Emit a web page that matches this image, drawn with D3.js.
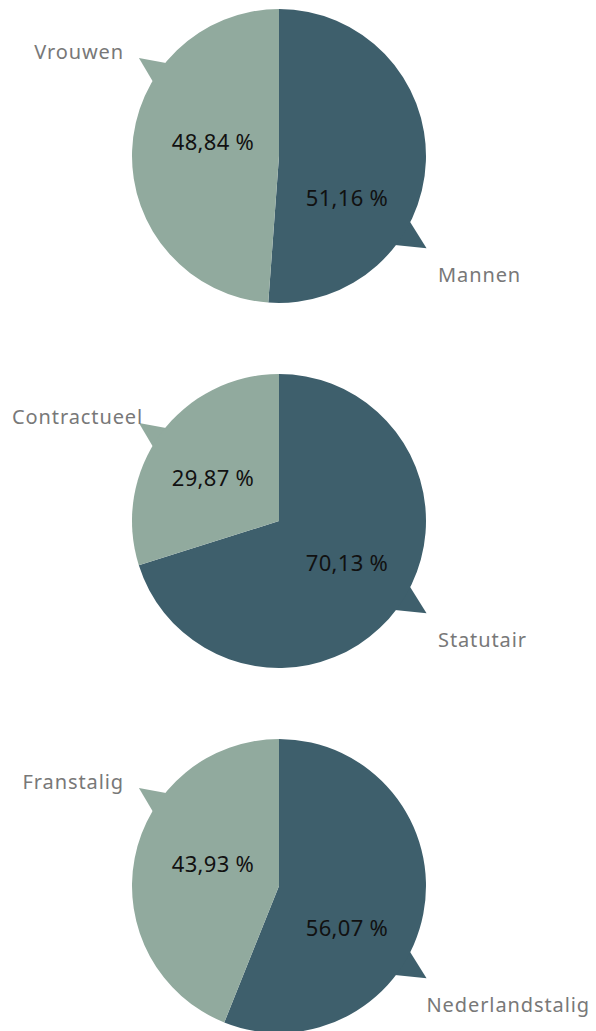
<!DOCTYPE html>
<html>
<head>
<meta charset="utf-8">
<script src="https://cdn.jsdelivr.net/npm/d3@7"></script>
<style>
  body { margin: 0; background: #fff; }
  svg { display: block; font-family: "Noto Sans", sans-serif; }
</style>
</head>
<body>
<svg id="chart" width="596" height="1031"></svg>
<script>
// One pie per group: first value is the dark slice, second the light one
const groups = ['geslacht', 'statuut', 'taal'];
const darkNames = ['Mannen', 'Statutair', 'Nederlandstalig'];
const lightNames = ['Vrouwen', 'Contractueel', 'Franstalig'];
const darkValues = [51.16, 70.13, 56.07];
const lightValues = [48.84, 29.87, 43.93];

const W = 596, H = 1031;
const R = 147, cx = 279;
const colors = ['#3e5f6c', '#91aa9e'];

const svg = d3.select('#chart');

const y = d3.scalePoint()
    .domain(groups)
    .range([156, 886]);

const pie = d3.pie().sort(null).value(d => d.value);
const arc = d3.arc().innerRadius(0).outerRadius(R);
const inner = d3.arc().innerRadius(0).outerRadius(104); // used for label height only

const fmt = v => d3.format('.2f')(v).replace('.', ',') + ' %';

// callout pointer: small triangle sticking out of the circle
function pointer(angleDeg, tipR, half) {
  const a = angleDeg * Math.PI / 180, h = half * Math.PI / 180;
  const pt = (ang, r) => [r * Math.sin(ang), -r * Math.cos(ang)];
  return [pt(a - h, R - 3), pt(a, tipR), pt(a + h, R - 3)];
}

groups.forEach((g, i) => {
  const slices = pie([
    {name: darkNames[i], value: darkValues[i]},
    {name: lightNames[i], value: lightValues[i]}
  ]);

  const gEl = svg.append('g').attr('transform', `translate(${cx},${y(g)})`);

  // pointers first so the pie covers their base
  const ptrs = [pointer(122, 174, 6), pointer(305, 171, 5)];
  gEl.selectAll('path.ptr')
      .data(ptrs)
      .join('path')
      .attr('class', 'ptr')
      .attr('d', d => d3.line()(d) + 'Z')
      .attr('fill', (d, k) => colors[k]);

  gEl.selectAll('path.slice')
      .data(slices)
      .join('path')
      .attr('class', 'slice')
      .attr('d', arc)
      .attr('fill', (d, k) => colors[k]);

  // percentages
  const lc = inner.centroid(slices[1]);
  gEl.append('text')
      .attr('x', 68).attr('y', 50)
      .attr('text-anchor', 'middle')
      .attr('font-size', 22)
      .attr('letter-spacing', 0.3)
      .attr('fill', '#111')
      .text(fmt(darkValues[i]));
  gEl.append('text')
      .attr('x', -66).attr('y', lc[1] - 4)
      .attr('text-anchor', 'middle')
      .attr('font-size', 22)
      .attr('letter-spacing', 0.3)
      .attr('fill', '#111')
      .text(fmt(lightValues[i]));

  // category labels, kept inside the page
  const dl = gEl.append('text')
      .attr('y', 126)
      .attr('font-size', 20)
      .attr('letter-spacing', 0.9)
      .attr('fill', '#787878')
      .text(darkNames[i]);
  const dw = dl.node().getComputedTextLength();
  dl.attr('x', Math.min(159, W - 6 - cx - dw));

  const ll = gEl.append('text')
      .attr('y', -97)
      .attr('font-size', 20)
      .attr('letter-spacing', 0.9)
      .attr('fill', '#787878')
      .text(lightNames[i]);
  const lw = ll.node().getComputedTextLength();
  ll.attr('x', Math.max(-155 - lw, 12 - cx));
});
</script>
</body>
</html>
